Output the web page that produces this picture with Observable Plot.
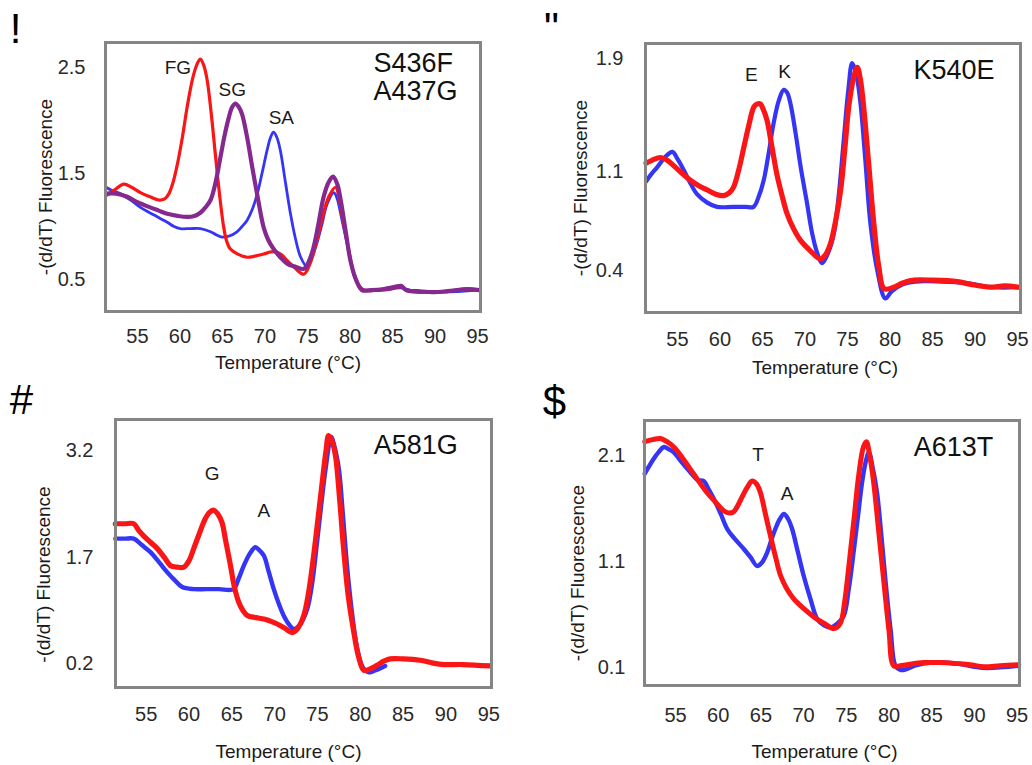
<!DOCTYPE html>
<html>
<head>
<meta charset="utf-8">
<script src="https://cdn.jsdelivr.net/npm/d3@7"></script>
<script src="https://cdn.jsdelivr.net/npm/@observablehq/plot@0.6"></script>
<style>
  html, body { margin: 0; padding: 0; background: #fff; }
  #root { position: relative; width: 1032px; height: 765px; overflow: hidden; background: #fff; }
</style>
</head>
<body>
<div id="root"></div>
<script>
// ---------------- DATA ----------------
const temperatureTicks = [55, 60, 65, 70, 75, 80, 85, 90, 95];
const xTitle = "Temperature (°C)";
const yTitle = "-(d/dT) Fluorescence";

// Panel ! : S436F / A437G
const tagA = "!";
const mutationA = ["S436F", "A437G"];
const yTicksA = [0.5, 1.5, 2.5];
const seriesA_FG = [[51.3,1.29],[52.4,1.35],[53.4,1.40],[54.3,1.37],[55.35,1.32],[56.5,1.28],[57.5,1.25],[58.2,1.26],[58.7,1.31],[59.2,1.42],[59.7,1.59],[60.3,1.85],[60.85,2.13],[61.5,2.40],[62.0,2.53],[62.4,2.58],[62.8,2.52],[63.2,2.38],[63.7,2.05],[64.2,1.65],[64.7,1.27],[65.15,0.99],[65.5,0.86],[65.9,0.79],[66.8,0.74],[67.9,0.71],[68.8,0.72],[69.85,0.74],[70.7,0.76],[71.4,0.76],[72.0,0.73],[72.6,0.68],[73.5,0.61],[74.55,0.55],[75.3,0.65],[76.1,0.87],[76.8,1.10],[77.5,1.28],[78.3,1.37],[78.7,1.28],[79.1,1.09],[79.8,0.80],[80.45,0.55],[81.0,0.45],[81.6,0.40],[83,0.40],[84.7,0.41],[85.5,0.43],[86.2,0.43],[86.8,0.39],[88,0.38],[89.9,0.38],[91.5,0.39],[93.8,0.41],[95.2,0.40]];
const seriesA_SG = [[51.3,1.31],[52.5,1.31],[53.8,1.28],[55.0,1.23],[56.5,1.18],[57.5,1.15],[58.5,1.12],[59.7,1.10],[60.85,1.09],[61.7,1.10],[62.4,1.13],[63.0,1.18],[63.6,1.25],[64.2,1.42],[64.75,1.65],[65.25,1.86],[65.75,2.03],[66.1,2.12],[66.5,2.16],[66.9,2.13],[67.3,2.06],[67.9,1.84],[68.5,1.56],[69.2,1.25],[69.85,0.99],[70.4,0.87],[71.0,0.79],[71.8,0.71],[72.6,0.65],[73.6,0.62],[74.55,0.60],[75.1,0.66],[75.7,0.80],[76.3,1.03],[76.9,1.28],[77.5,1.42],[78.0,1.47],[78.5,1.40],[78.9,1.25],[79.5,0.95],[80.05,0.68],[80.7,0.50],[81.4,0.40],[82.5,0.40],[84,0.41],[85.3,0.43],[86.0,0.44],[86.6,0.40],[88,0.39],[89.9,0.38],[91.5,0.39],[93.8,0.41],[95.2,0.40]];
const seriesA_SA = [[51.3,1.37],[52.0,1.34],[53.0,1.31],[54.2,1.25],[55.35,1.18],[56.9,1.11],[58.5,1.04],[59.3,1.00],[60.05,0.98],[61.2,0.98],[62.4,0.98],[63.6,0.95],[64.3,0.92],[64.95,0.90],[65.8,0.91],[66.7,0.95],[67.3,1.00],[67.9,1.06],[68.5,1.16],[69.1,1.31],[69.7,1.52],[70.25,1.72],[70.65,1.84],[71.0,1.89],[71.4,1.84],[71.8,1.72],[72.4,1.42],[73.0,1.12],[73.6,0.88],[74.2,0.71],[74.95,0.62],[75.5,0.70],[76.1,0.84],[76.7,1.02],[77.3,1.21],[78.1,1.32],[78.5,1.26],[78.9,1.12],[79.7,0.82],[80.45,0.55],[81.0,0.44],[81.6,0.40],[84,0.40],[86,0.42],[88,0.38],[91,0.38],[95.2,0.40]];
const peaksA = [{label:"FG", t:59.76, v:2.50}, {label:"SG", t:66.14, v:2.29}, {label:"SA", t:71.92, v:2.02}];

// Panel " : K540E
const tagB = "\"";
const mutationB = ["K540E"];
const yTicksB = [0.4, 1.1, 1.9];
const seriesB_E = [[51.3,1.16],[52.0,1.18],[53.0,1.20],[53.8,1.18],[54.6,1.14],[55.5,1.09],[56.5,1.04],[57.5,1.00],[58.5,0.97],[59.5,0.94],[60.45,0.93],[61.1,0.95],[61.6,0.99],[62.2,1.11],[62.8,1.27],[63.4,1.43],[64.0,1.56],[64.4,1.58],[64.75,1.58],[65.1,1.54],[65.55,1.46],[66.1,1.28],[66.7,1.08],[67.3,0.93],[67.9,0.80],[68.7,0.69],[69.5,0.61],[70.6,0.54],[71.8,0.48],[72.4,0.51],[73.0,0.59],[73.6,0.75],[74.2,0.97],[74.7,1.27],[75.15,1.56],[75.7,1.76],[76.15,1.84],[76.5,1.76],[76.9,1.56],[77.5,1.15],[78.1,0.73],[78.7,0.42],[79.3,0.27],[80.45,0.28],[81.5,0.31],[82.8,0.33],[85,0.33],[87.9,0.32],[89.5,0.30],[91.8,0.28],[93.5,0.29],[95.2,0.28]];
const seriesB_K = [[51.3,1.03],[51.9,1.08],[52.6,1.13],[53.5,1.20],[54.4,1.24],[55.0,1.19],[55.75,1.11],[56.5,1.02],[57.3,0.94],[58.5,0.88],[59.65,0.85],[61.5,0.85],[63.0,0.85],[63.95,0.85],[64.6,0.93],[65.15,1.04],[65.7,1.22],[66.3,1.44],[66.9,1.60],[67.5,1.68],[67.9,1.66],[68.3,1.58],[68.9,1.37],[69.5,1.13],[70.2,0.89],[70.85,0.66],[71.4,0.53],[72.0,0.45],[72.7,0.52],[73.4,0.66],[74.0,0.95],[74.55,1.32],[75.1,1.68],[75.55,1.87],[76.0,1.80],[76.5,1.60],[77.1,1.18],[77.7,0.73],[78.5,0.40],[79.45,0.20],[80.2,0.25],[81.5,0.30],[83,0.32],[86,0.32],[89,0.31],[92,0.28],[95.2,0.28]];
const peaksB = [{label:"E", t:63.68, v:1.787}, {label:"K", t:67.61, v:1.805}];

// Panel # : A581G
const tagC = "#";
const mutationC = ["A581G"];
const yTicksC = [0.2, 1.7, 3.2];
const seriesC_G = [[51.4,2.17],[52.5,2.17],[53.55,2.17],[54.1,2.08],[54.7,2.00],[55.5,1.91],[56.3,1.82],[57.1,1.70],[57.85,1.58],[58.6,1.56],[59.4,1.56],[60.0,1.65],[60.55,1.82],[61.2,2.03],[61.9,2.24],[62.4,2.33],[62.9,2.36],[63.4,2.30],[63.85,2.19],[64.3,1.92],[64.85,1.58],[65.3,1.28],[65.8,1.07],[66.3,0.95],[66.8,0.88],[67.8,0.85],[68.75,0.83],[69.5,0.80],[70.3,0.76],[71.2,0.70],[72.05,0.64],[72.7,0.70],[73.4,0.88],[74.0,1.23],[74.55,1.72],[75.1,2.28],[75.55,2.75],[76.0,3.20],[76.3,3.41],[76.7,3.33],[77.1,3.13],[77.6,2.50],[78.05,1.82],[78.6,1.15],[79.25,0.64],[79.8,0.30],[80.4,0.11],[81.2,0.13],[81.95,0.18],[82.8,0.24],[83.5,0.27],[85,0.27],[87.0,0.25],[88.5,0.21],[89.75,0.19],[92,0.19],[95.2,0.17]];
const seriesC_A = [[51.4,1.96],[52.5,1.96],[53.55,1.96],[54.5,1.87],[55.5,1.77],[56.5,1.63],[57.45,1.49],[58.3,1.38],[59.2,1.28],[60.55,1.25],[62,1.25],[63.5,1.25],[65.2,1.25],[65.8,1.40],[66.4,1.58],[67.1,1.75],[67.75,1.84],[68.2,1.80],[68.75,1.72],[69.3,1.50],[69.9,1.25],[70.5,1.04],[71.05,0.88],[71.7,0.75],[72.25,0.69],[73.0,0.76],[73.8,0.97],[74.4,1.35],[74.95,1.91],[75.5,2.50],[75.95,2.94],[76.6,3.39],[77.0,3.25],[77.5,2.94],[78.0,2.25],[78.45,1.58],[79.0,0.95],[79.65,0.41],[80.3,0.15],[81.0,0.08],[81.8,0.11],[82.55,0.15],[82.9,0.17]];
const peaksC = [{label:"G", t:62.71, v:2.872}, {label:"A", t:68.73, v:2.356}];

// Panel $ : A613T
const tagD = "$";
const mutationD = ["A613T"];
const yTicksD = [0.1, 1.1, 2.1];
const seriesD_T = [[51.4,2.23],[52.3,2.25],[53.25,2.26],[54.0,2.23],[54.8,2.18],[55.8,2.08],[56.75,1.97],[57.7,1.86],[58.7,1.75],[59.7,1.66],[60.65,1.58],[61.2,1.56],[61.8,1.57],[62.3,1.63],[62.8,1.71],[63.4,1.80],[63.98,1.86],[64.5,1.83],[64.95,1.75],[65.5,1.56],[66.1,1.35],[66.7,1.15],[67.3,0.97],[68.0,0.85],[68.85,0.75],[70.0,0.66],[71.2,0.58],[72.4,0.52],[73.55,0.47],[74.3,0.52],[74.8,0.72],[75.3,1.06],[75.9,1.50],[76.45,1.91],[77.0,2.18],[77.35,2.23],[77.7,2.12],[78.2,1.85],[78.8,1.38],[79.4,0.91],[80.0,0.45],[80.55,0.12],[81.3,0.12],[82.1,0.13],[84.05,0.15],[86,0.15],[88.0,0.14],[89.5,0.13],[91.1,0.11],[93,0.12],[95.2,0.13]];
const seriesD_A = [[51.4,1.93],[52.45,2.07],[53.0,2.13],[53.65,2.18],[54.2,2.16],[54.8,2.13],[55.8,2.03],[56.75,1.94],[57.6,1.87],[58.3,1.86],[58.9,1.78],[59.5,1.69],[60.3,1.55],[61.05,1.41],[62.0,1.31],[63.0,1.22],[63.8,1.14],[64.55,1.06],[65.1,1.09],[65.75,1.19],[66.2,1.30],[66.7,1.41],[67.2,1.50],[67.7,1.55],[68.2,1.50],[68.65,1.41],[69.3,1.20],[70.0,0.97],[70.8,0.75],[71.6,0.56],[72.4,0.50],[73.15,0.48],[74.0,0.52],[74.7,0.59],[75.3,0.85],[75.9,1.22],[76.4,1.55],[76.85,1.85],[77.3,2.05],[77.65,2.13],[78.1,1.98],[78.6,1.75],[79.1,1.35],[79.6,0.91],[80.2,0.45],[80.75,0.12],[81.4,0.08],[82.1,0.09],[83,0.12],[85,0.15],[88,0.14],[91,0.10],[95.2,0.12]];
const peaksD = [{label:"T", t:64.66, v:2.108}, {label:"A", t:68.08, v:1.74}];

// ---------------- STYLE / LAYOUT ----------------
const RED = "#fa1616";
const BLUE = "#3535f5";
const PURPLE = "#85298f";
const FONT = '"Liberation Sans", Arial, Helvetica, sans-serif';

const panels = [
  { left: 0, top: 0, width: 516, height: 382, m: [42, 36, 71, 105],
    xDomain: [51.24, 95.35], yDomain: [0.198, 2.736], yTicks: yTicksA, xPad: 17, yPad: 20,
    xt: [-5, 57], yt: [-60, 10], mut: mutationA, mutD: [-107, 57.3], tag: tagA, tagD: [-90, 0],
    peaks: peaksA,
    lines: [ {data: seriesA_SA, color: BLUE, w: 2.8}, {data: seriesA_FG, color: RED, w: 3.2}, {data: seriesA_SG, color: PURPLE, w: 4.2} ] },
  { left: 516, top: 0, width: 516, height: 382, m: [43, 12, 70, 129],
    xDomain: [51.24, 95.35], yDomain: [0.1007, 2.0085], yTicks: yTicksB, xPad: 19, yPad: 22,
    xt: [-8, 61], yt: [-65, 10], mut: mutationB, mutD: [-107, 35.3], tag: tagB, tagD: [-94, -2],
    peaks: peaksB,
    lines: [ {data: seriesB_K, color: BLUE, w: 4.2}, {data: seriesB_E, color: RED, w: 5.2} ] },
  { left: 0, top: 382, width: 516, height: 383, m: [37, 25, 78, 115],
    xDomain: [51.42, 95.32], yDomain: [-0.133, 3.636], yTicks: yTicksC, xPad: 19, yPad: 22,
    xt: [-15, 70], yt: [-72, 21], mut: mutationC, mutD: [-117.7, 34.3], tag: tagC, tagD: [-94, -6],
    peaks: peaksC,
    lines: [ {data: seriesC_A, color: BLUE, w: 4.4}, {data: seriesC_G, color: RED, w: 5.2} ] },
  { left: 516, top: 382, width: 516, height: 383, m: [38, 13, 80, 128],
    xDomain: [51.37, 95.28], yDomain: [-0.066, 2.43], yTicks: yTicksD, xPad: 22, yPad: 19,
    xt: [-7.5, 72], yt: [-67, 20], mut: mutationD, mutD: [-105.7, 35], tag: tagD, tagD: [-90, -5],
    peaks: peaksD,
    lines: [ {data: seriesD_A, color: BLUE, w: 4.4}, {data: seriesD_T, color: RED, w: 5.0} ] }
];

const root = document.getElementById("root");

for (const p of panels) {
  const marks = [
    ...p.lines.map(l => Plot.line(l.data, {
      x: d => d[0], y: d => d[1], stroke: l.color, strokeWidth: l.w,
      curve: "catmull-rom", strokeLinejoin: "round", strokeLinecap: "round"
    })),
    Plot.frame({stroke: "#858585", strokeWidth: 3}),
    Plot.text(p.peaks, {x: "t", y: "v", text: "label", fontSize: 19, fill: "#1a1a1a"}),
    Plot.text([p.mut.join("\n")], {
      text: d => d, frameAnchor: "top-right", textAnchor: "start", lineAnchor: "bottom",
      lineHeight: 1.02, dx: p.mutD[0], dy: p.mutD[1], fontSize: 27, fill: "#111"
    }),
    Plot.text([xTitle], {text: d => d, frameAnchor: "bottom", textAnchor: "middle", dx: p.xt[0], dy: p.xt[1], fontSize: 19, fill: "#1a1a1a"}),
    Plot.text([yTitle], {text: d => d, frameAnchor: "left", textAnchor: "middle", lineAnchor: "middle", rotate: -90, dx: p.yt[0], dy: p.yt[1], fontSize: 19, fill: "#1a1a1a"}),
    Plot.text([p.tag], {text: d => d, frameAnchor: "top-left", textAnchor: "middle", lineAnchor: "bottom",
      dx: p.tagD[0], dy: p.tagD[1], fontSize: 42, fill: "#000"})
  ];
  const svg = Plot.plot({
    width: p.width, height: p.height,
    marginTop: p.m[0], marginRight: p.m[1], marginBottom: p.m[2], marginLeft: p.m[3],
    style: {fontFamily: FONT, fontSize: "20px", color: "#2a2a2a", background: "transparent", overflow: "visible"},
    x: {domain: p.xDomain, ticks: temperatureTicks, tickSize: 0, tickPadding: p.xPad, label: null, tickFormat: d => String(d)},
    y: {domain: p.yDomain, ticks: p.yTicks, tickSize: 0, tickPadding: p.yPad, label: null, tickFormat: d => d.toFixed(1)},
    marks
  });
  svg.style.position = "absolute";
  svg.style.left = p.left + "px";
  svg.style.top = p.top + "px";
  root.appendChild(svg);
}
</script>
</body>
</html>
